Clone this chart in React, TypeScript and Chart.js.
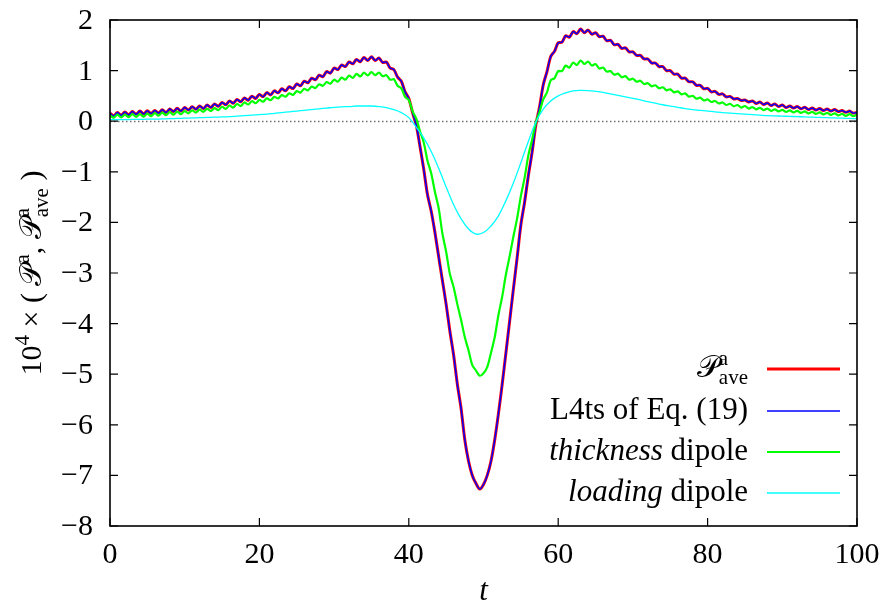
import React, { useEffect, useRef } from 'react';
import { Chart, registerables } from 'chart.js';

Chart.register(...registerables);

// ---------- data ----------
const T_STEP_FINE = 0.5; // sampling of the oscillating series (t units)
const T_STEP_COARSE = 1; // sampling of the smooth loading-dipole series

// P^a_ave (t = 0, 0.5, ..., 100)
const pAveValues = [
  0.16, 0.105, 0.17, 0.115, 0.18, 0.125, 0.19, 0.135, 0.20, 0.14,
  0.205, 0.15, 0.21, 0.16, 0.225, 0.17, 0.24, 0.19, 0.255, 0.20,
  0.27, 0.22, 0.285, 0.235, 0.30, 0.25, 0.32, 0.27, 0.34, 0.295,
  0.37, 0.325, 0.40, 0.355, 0.43, 0.385, 0.46, 0.415, 0.495, 0.45,
  0.53, 0.485, 0.565, 0.52, 0.60, 0.56, 0.64, 0.60, 0.68, 0.645,
  0.735, 0.70, 0.79, 0.76, 0.85, 0.82, 0.91, 0.88, 0.98, 0.95,
  1.05, 1.02, 1.11, 1.08, 1.17, 1.135, 1.22, 1.175, 1.26, 1.20,
  1.275, 1.20, 1.25, 1.16, 1.17, 1.05, 1.02, 0.87, 0.79, 0.58,
  0.45, 0.17, -0.08, -0.5, -0.95, -1.45, -1.78, -2.2, -2.68, -3.15,
  -3.62, -4.15, -4.62, -5.2, -5.68, -6.3, -6.72, -7.0, -7.16, -7.27,
  -7.18, -7.0, -6.72, -6.3, -5.78, -5.2, -4.58, -3.95, -3.32, -2.7,
  -2.05, -1.6, -1.08, -0.62, -0.08, 0.28, 0.72, 0.98, 1.28, 1.38,
  1.55, 1.56, 1.69, 1.66, 1.77, 1.73, 1.82, 1.75, 1.80, 1.72,
  1.75, 1.67, 1.68, 1.59, 1.60, 1.51, 1.52, 1.44, 1.45, 1.37,
  1.37, 1.30, 1.30, 1.23, 1.23, 1.15, 1.15, 1.08, 1.08, 1.00,
  1.00, 0.93, 0.93, 0.85, 0.85, 0.78, 0.78, 0.71, 0.71, 0.64,
  0.65, 0.58, 0.59, 0.53, 0.54, 0.48, 0.49, 0.44, 0.45, 0.41,
  0.42, 0.38, 0.40, 0.35, 0.38, 0.33, 0.36, 0.31, 0.34, 0.29,
  0.32, 0.27, 0.30, 0.26, 0.29, 0.245, 0.275, 0.23, 0.26, 0.22,
  0.25, 0.21, 0.24, 0.20, 0.23, 0.19, 0.21, 0.175, 0.20, 0.16,
  0.175,
];

// L4ts of Eq. (19): coincides with P^a_ave at this scale
const l4tsValues = pAveValues;

// thickness dipole (t = 0, 0.5, ..., 100)
const thicknessValues = [
  0.12, 0.07, 0.13, 0.075, 0.13, 0.08, 0.14, 0.085, 0.14, 0.09,
  0.15, 0.10, 0.16, 0.11, 0.17, 0.12, 0.18, 0.13, 0.19, 0.14,
  0.20, 0.155, 0.215, 0.17, 0.23, 0.185, 0.245, 0.20, 0.26, 0.22,
  0.285, 0.245, 0.31, 0.27, 0.34, 0.30, 0.37, 0.33, 0.395, 0.355,
  0.42, 0.385, 0.45, 0.415, 0.48, 0.45, 0.515, 0.485, 0.55, 0.52,
  0.595, 0.565, 0.64, 0.61, 0.685, 0.655, 0.73, 0.70, 0.775, 0.74,
  0.82, 0.78, 0.86, 0.82, 0.90, 0.855, 0.935, 0.885, 0.96, 0.905,
  0.97, 0.91, 0.96, 0.89, 0.91, 0.82, 0.83, 0.70, 0.65, 0.48,
  0.42, 0.2, 0.05, -0.2, -0.42, -0.78, -1.03, -1.4, -1.72, -2.22,
  -2.58, -3.02, -3.28, -3.62, -3.93, -4.27, -4.53, -4.82, -4.93, -5.03,
  -4.98, -4.86, -4.58, -4.27, -3.83, -3.47, -3.03, -2.67, -2.28, -1.92,
  -1.48, -1.12, -0.68, -0.37, -0.03, 0.18, 0.43, 0.57, 0.81, 0.85,
  0.99, 0.99, 1.10, 1.06, 1.16, 1.11, 1.20, 1.13, 1.18, 1.10,
  1.13, 1.04, 1.06, 0.98, 0.99, 0.92, 0.94, 0.87, 0.89, 0.82,
  0.84, 0.78, 0.80, 0.735, 0.75, 0.69, 0.71, 0.65, 0.67, 0.61,
  0.63, 0.57, 0.59, 0.53, 0.55, 0.485, 0.50, 0.445, 0.465, 0.41,
  0.43, 0.38, 0.40, 0.35, 0.37, 0.32, 0.345, 0.295, 0.32, 0.27,
  0.30, 0.25, 0.28, 0.235, 0.265, 0.22, 0.25, 0.205, 0.235, 0.195,
  0.225, 0.185, 0.215, 0.175, 0.205, 0.165, 0.195, 0.155, 0.185, 0.145,
  0.175, 0.135, 0.165, 0.125, 0.155, 0.115, 0.145, 0.105, 0.14, 0.10,
  0.13,
];

// loading dipole (t = 0, 1, ..., 100)
const loadingValues = [
  0.03, 0.03, 0.03, 0.035, 0.035, 0.04, 0.04, 0.045, 0.05, 0.055,
  0.06, 0.065, 0.07, 0.075, 0.08, 0.085, 0.09, 0.10, 0.11, 0.12,
  0.13, 0.14, 0.155, 0.17, 0.185, 0.20, 0.215, 0.23, 0.245, 0.26,
  0.275, 0.285, 0.29, 0.30, 0.30, 0.30, 0.29, 0.27, 0.23, 0.17,
  0.07, -0.12, -0.33, -0.6, -0.93, -1.3, -1.65, -1.93, -2.13, -2.23,
  -2.2, -2.07, -1.87, -1.57, -1.22, -0.82, -0.4, -0.02, 0.24, 0.40,
  0.50, 0.56, 0.60, 0.61, 0.605, 0.59, 0.57, 0.54, 0.51, 0.48,
  0.45, 0.42, 0.385, 0.355, 0.325, 0.30, 0.275, 0.25, 0.23, 0.215,
  0.20, 0.185, 0.17, 0.16, 0.15, 0.14, 0.13, 0.12, 0.11, 0.105,
  0.10, 0.095, 0.09, 0.085, 0.08, 0.075, 0.07, 0.065, 0.06, 0.055,
  0.05,
];

const xTicks = [0, 20, 40, 60, 80, 100];
const yTicks = [-8, -7, -6, -5, -4, -3, -2, -1, 0, 1, 2];
const X_MIN = 0;
const X_MAX = 100;
const Y_MIN = -8;
const Y_MAX = 2;

const xTitle = 't';
const legendLabels = ['P^a_ave', 'L4ts of Eq. (19)', 'thickness dipole', 'loading dipole'];
const seriesColors = ['#ff0000', '#0000ff', '#00ff00', '#00ffff'];

// ---------- styling ----------
const SERIF = '"Liberation Serif", "DejaVu Serif", serif';
const SCRIPT = '"DejaVu Serif", "DejaVu Sans", "Noto Sans", serif';
const FS_TICK = 30;
const FS_TEXT = 31;
const FS_SMALL = 21;
const SCRIPT_P = '\u{1D4AB}';

type Seg = { t?: string; size?: number; italic?: boolean; dy?: number; script?: boolean; sup?: string; sub?: string };

function segFont(s: Seg, size: number) {
  return `${s.italic ? 'italic ' : ''}${size}px ${s.script ? SCRIPT : SERIF}`;
}

function segWidth(ctx: CanvasRenderingContext2D, s: Seg, base: number) {
  if (s.sup !== undefined || s.sub !== undefined) {
    ctx.font = segFont(s, FS_SMALL);
    const a = s.sup ? ctx.measureText(s.sup).width : 0;
    const b = s.sub ? ctx.measureText(s.sub).width : 0;
    return Math.max(a, b);
  }
  ctx.font = segFont(s, s.size ?? base);
  return ctx.measureText(s.t ?? '').width;
}

function drawRich(ctx: CanvasRenderingContext2D, segs: Seg[], x: number, y: number, align: 'left' | 'right' | 'center', base: number) {
  const total = segs.reduce((w, s) => w + segWidth(ctx, s, base), 0);
  let cx = align === 'left' ? x : align === 'right' ? x - total : x - total / 2;
  ctx.textAlign = 'left';
  ctx.textBaseline = 'alphabetic';
  for (const s of segs) {
    const w = segWidth(ctx, s, base);
    if (s.sup !== undefined || s.sub !== undefined) {
      ctx.font = segFont(s, FS_SMALL);
      if (s.sup) ctx.fillText(s.sup, cx, y - 12);
      if (s.sub) ctx.fillText(s.sub, cx, y + 7);
    } else {
      ctx.font = segFont(s, s.size ?? base);
      ctx.fillText(s.t ?? '', cx, y + (s.dy ?? 0));
    }
    cx += w;
  }
}

const legendSegs: Seg[][] = [
  [{ t: SCRIPT_P, script: true, italic: false }, { sup: 'a', sub: 'ave' }],
  [{ t: legendLabels[1] }],
  [{ t: 'thickness', italic: true }, { t: ' dipole' }],
  [{ t: 'loading', italic: true }, { t: ' dipole' }],
];

const yTitleSegs: Seg[] = [
  { t: '10' },
  { t: '4', size: FS_SMALL, dy: -12 },
  { t: ' \u00d7 ( ' },
  { t: SCRIPT_P, script: true },
  { t: 'a', size: FS_SMALL, dy: -12 },
  { t: ', ' },
  { t: SCRIPT_P, script: true },
  { sup: 'a', sub: 'ave' },
  { t: ' )' },
];

const fmt = (v: number) => (v < 0 ? '\u2212' + Math.abs(v) : String(v));

const gnuplotFrame = {
  id: 'gnuplotFrame',
  beforeDatasetsDraw(chart: any) {
    const { ctx, chartArea: a, scales } = chart;
    const y0 = Math.round(scales.y.getPixelForValue(0)) + 0.5;
    ctx.save();
    ctx.strokeStyle = '#707070';
    ctx.lineWidth = 1.3;
    ctx.setLineDash([1.5, 2.5]);
    ctx.beginPath();
    ctx.moveTo(a.left, y0);
    ctx.lineTo(a.right, y0);
    ctx.stroke();
    ctx.restore();
  },
  afterDraw(chart: any) {
    const { ctx, chartArea: a, scales } = chart;
    ctx.save();
    ctx.strokeStyle = '#000';
    ctx.fillStyle = '#000';
    ctx.lineWidth = 1.6;
    ctx.setLineDash([]);
    ctx.strokeRect(a.left, a.top, a.right - a.left, a.bottom - a.top);
    const TL = 8;
    ctx.lineWidth = 1.2;
    ctx.beginPath();
    for (const v of xTicks) {
      const px = scales.x.getPixelForValue(v);
      ctx.moveTo(px, a.bottom);
      ctx.lineTo(px, a.bottom - TL);
      ctx.moveTo(px, a.top);
      ctx.lineTo(px, a.top + TL);
    }
    for (const v of yTicks) {
      const py = scales.y.getPixelForValue(v);
      ctx.moveTo(a.left, py);
      ctx.lineTo(a.left + TL, py);
      ctx.moveTo(a.right, py);
      ctx.lineTo(a.right - TL, py);
    }
    ctx.stroke();

    // tick labels
    ctx.font = `${FS_TICK}px ${SERIF}`;
    ctx.textBaseline = 'alphabetic';
    ctx.textAlign = 'center';
    for (const v of xTicks) {
      ctx.fillText(fmt(v), scales.x.getPixelForValue(v), a.bottom + 37);
    }
    ctx.textAlign = 'right';
    for (const v of yTicks) {
      ctx.fillText(fmt(v), a.left - 17, scales.y.getPixelForValue(v) + 9);
    }

    // x title
    ctx.font = `italic ${FS_TEXT}px ${SERIF}`;
    ctx.textAlign = 'center';
    ctx.fillText(xTitle, (a.left + a.right) / 2, 600);

    // y title
    ctx.save();
    ctx.translate(41, (a.top + a.bottom) / 2);
    ctx.rotate(-Math.PI / 2);
    drawRich(ctx, yTitleSegs, 0, 0, 'center', FS_TICK);
    ctx.restore();

    // legend
    const rows = [369, 411, 452, 493];
    const widths = [3, 1.6, 2.2, 1.6];
    rows.forEach((ry, i) => {
      ctx.fillStyle = '#000';
      drawRich(ctx, legendSegs[i], 748, ry + 8, 'right', FS_TEXT);
      ctx.strokeStyle = seriesColors[i];
      ctx.lineWidth = widths[i];
      ctx.beginPath();
      ctx.moveTo(767, ry);
      ctx.lineTo(840, ry);
      ctx.stroke();
    });
    ctx.restore();
  },
};

function toPoints(values: number[], step: number) {
  return values.map((v, i) => ({ x: i * step, y: v }));
}

export default function App() {
  const ref = useRef<HTMLCanvasElement | null>(null);
  useEffect(() => {
    document.body.style.margin = '0';
    const canvas = ref.current;
    if (!canvas) return;
    const chart = new Chart(canvas, {
      type: 'line',
      data: {
        datasets: [
          { label: legendLabels[0], data: toPoints(pAveValues, T_STEP_FINE), borderColor: seriesColors[0], borderWidth: 3, pointRadius: 0, tension: 0.3, order: 4 },
          { label: legendLabels[1], data: toPoints(l4tsValues, T_STEP_FINE), borderColor: seriesColors[1], borderWidth: 1.5, pointRadius: 0, tension: 0.3, order: 3 },
          { label: legendLabels[2], data: toPoints(thicknessValues, T_STEP_FINE), borderColor: seriesColors[2], borderWidth: 2.2, pointRadius: 0, tension: 0.3, order: 2 },
          { label: legendLabels[3], data: toPoints(loadingValues, T_STEP_COARSE), borderColor: seriesColors[3], borderWidth: 1.3, pointRadius: 0, tension: 0.4, order: 1 },
        ],
      },
      options: {
        animation: false,
        responsive: false,
        events: [],
        layout: { padding: { left: 0, right: 25, top: 20, bottom: 0 } },
        plugins: { legend: { display: false }, tooltip: { enabled: false } },
        scales: {
          x: {
            type: 'linear', min: X_MIN, max: X_MAX,
            grid: { display: false }, border: { display: false }, ticks: { display: false },
            afterFit: (s: any) => { s.height = 82; },
          },
          y: {
            type: 'linear', min: Y_MIN, max: Y_MAX,
            grid: { display: false }, border: { display: false }, ticks: { display: false },
            afterFit: (s: any) => { s.width = 110; },
          },
        },
      },
      plugins: [gnuplotFrame],
    } as any);
    return () => chart.destroy();
  }, []);
  return <canvas ref={ref} width={882} height={608} style={{ display: 'block', width: 882, height: 608 }} />;
}
